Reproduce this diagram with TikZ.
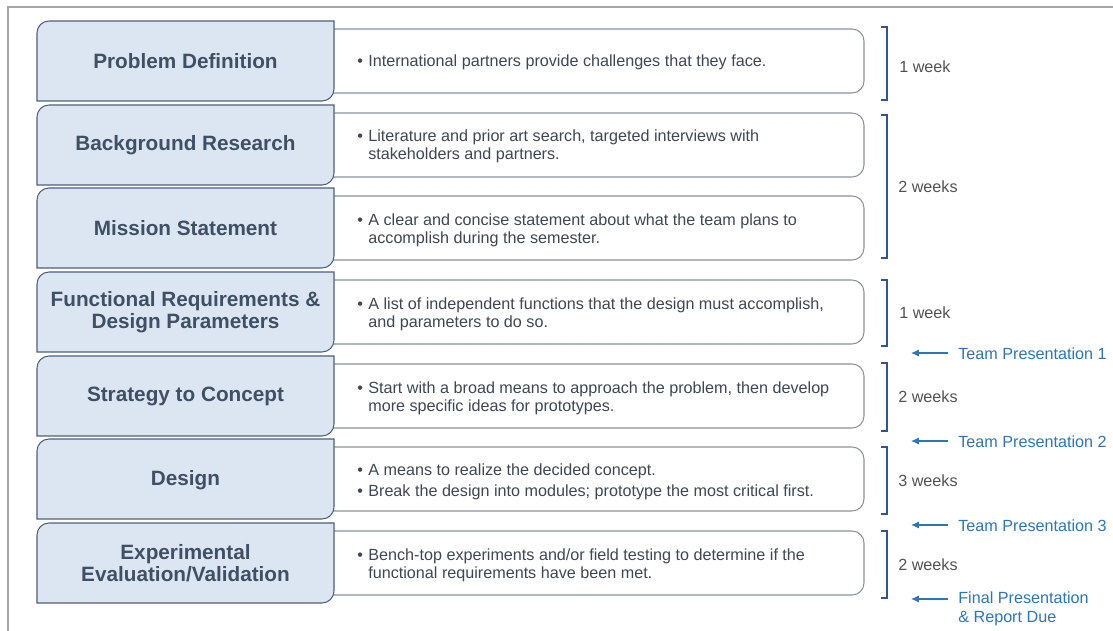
\documentclass[tikz,border=0pt]{standalone}
\usepackage{fontspec}
\setmainfont{Liberation Sans}
\usetikzlibrary{arrows.meta}

\definecolor{boxfill}{HTML}{DCE6F2}
\definecolor{boxline}{HTML}{4F5F78}
\definecolor{titlecol}{HTML}{3F4F66}
\definecolor{bodycol}{HTML}{3F4654}
\definecolor{descline}{HTML}{8A929C}
\definecolor{brackcol}{HTML}{2F5597}
\definecolor{prescol}{HTML}{2E75B6}
\definecolor{framecol}{HTML}{A6A6A6}

\newcommand{\bul}{\makebox[0.22cm][l]{\textbullet}}
\newcommand{\ind}{\hspace*{0.22cm}}

\tikzset{
  leftbox/.style={fill=boxfill, draw=boxline, line width=0.6pt},
  descbox/.style={fill=white, draw=descline, line width=0.6pt},
  stagetitle/.style={font=\fontsize{11.8pt}{12.6pt}\selectfont\bfseries, text=titlecol, align=center},
  stagetext/.style={font=\fontsize{9.2pt}{10.3pt}\selectfont, text=bodycol, align=left, anchor=west, inner sep=0pt},
  bracket/.style={draw=brackcol, line width=1.1pt},
  weeks/.style={font=\fontsize{9.2pt}{10.3pt}\selectfont, text=black!68, anchor=west, inner sep=0pt},
  pres/.style={font=\fontsize{9.2pt}{10.8pt}\selectfont, text=prescol, align=left, anchor=west, inner xsep=0.2cm, inner ysep=0pt},
  presarrow/.style={draw=prescol, line width=0.6pt, -{Latex[length=4.5pt,width=4pt]}}
}

\begin{document}
\begin{tikzpicture}[x=0.02cm, y=0.02cm]
\useasboundingbox (0, 0) rectangle (1113, -631);
\draw [framecol, line width=0.8pt] (8, -631) -- (8, -7) -- (1113, -7);

% description boxes (behind)
\filldraw [descbox] (300, -29) -- (852, -29) arc[start angle=90, end angle=0, radius=0.24cm] -- (864, -81) arc[start angle=0, end angle=-90, radius=0.24cm] -- (300, -93) -- cycle;
\filldraw [descbox] (300, -113) -- (852, -113) arc[start angle=90, end angle=0, radius=0.24cm] -- (864, -165) arc[start angle=0, end angle=-90, radius=0.24cm] -- (300, -177) -- cycle;
\filldraw [descbox] (300, -196) -- (852, -196) arc[start angle=90, end angle=0, radius=0.24cm] -- (864, -248) arc[start angle=0, end angle=-90, radius=0.24cm] -- (300, -260) -- cycle;
\filldraw [descbox] (300, -280) -- (852, -280) arc[start angle=90, end angle=0, radius=0.24cm] -- (864, -332) arc[start angle=0, end angle=-90, radius=0.24cm] -- (300, -344) -- cycle;
\filldraw [descbox] (300, -364) -- (852, -364) arc[start angle=90, end angle=0, radius=0.24cm] -- (864, -416) arc[start angle=0, end angle=-90, radius=0.24cm] -- (300, -428) -- cycle;
\filldraw [descbox] (300, -447) -- (852, -447) arc[start angle=90, end angle=0, radius=0.24cm] -- (864, -499) arc[start angle=0, end angle=-90, radius=0.24cm] -- (300, -511) -- cycle;
\filldraw [descbox] (300, -531) -- (852, -531) arc[start angle=90, end angle=0, radius=0.24cm] -- (864, -583) arc[start angle=0, end angle=-90, radius=0.24cm] -- (300, -595) -- cycle;

% stage boxes
\filldraw [leftbox] (37, -101) -- (37, -33) arc[start angle=180, end angle=90, radius=0.24cm] -- (334, -21) -- (334, -89) arc[start angle=0, end angle=-90, radius=0.24cm] -- cycle;
\filldraw [leftbox] (37, -185) -- (37, -117) arc[start angle=180, end angle=90, radius=0.24cm] -- (334, -105) -- (334, -173) arc[start angle=0, end angle=-90, radius=0.24cm] -- cycle;
\filldraw [leftbox] (37, -268) -- (37, -200) arc[start angle=180, end angle=90, radius=0.24cm] -- (334, -188) -- (334, -256) arc[start angle=0, end angle=-90, radius=0.24cm] -- cycle;
\filldraw [leftbox] (37, -352) -- (37, -284) arc[start angle=180, end angle=90, radius=0.24cm] -- (334, -272) -- (334, -340) arc[start angle=0, end angle=-90, radius=0.24cm] -- cycle;
\filldraw [leftbox] (37, -436) -- (37, -368) arc[start angle=180, end angle=90, radius=0.24cm] -- (334, -356) -- (334, -424) arc[start angle=0, end angle=-90, radius=0.24cm] -- cycle;
\filldraw [leftbox] (37, -519) -- (37, -451) arc[start angle=180, end angle=90, radius=0.24cm] -- (334, -439) -- (334, -507) arc[start angle=0, end angle=-90, radius=0.24cm] -- cycle;
\filldraw [leftbox] (37, -603) -- (37, -535) arc[start angle=180, end angle=90, radius=0.24cm] -- (334, -523) -- (334, -591) arc[start angle=0, end angle=-90, radius=0.24cm] -- cycle;

\node [stagetitle] (problem) at (185.5, -61) {Problem Definition};
\node [stagetitle] (research) at (185.5, -145) {Background Research};
\node [stagetitle] (mission) at (185.5, -228) {Mission Statement};
\node [stagetitle] (functional) at (185.5, -312) {Functional Requirements \&\\Design Parameters};
\node [stagetitle] (strategy) at (185.5, -396) {Strategy to Concept};
\node [stagetitle] (design) at (185.5, -480) {Design};
\node [stagetitle] (evaluation) at (185.5, -563) {Experimental\\Evaluation/Validation};

\node [stagetext] (problemtext) at (357, -62.5) {\bul International partners provide challenges that they face.};
\node [stagetext] (researchtext) at (357, -146) {\bul Literature and prior art search, targeted interviews with\\\ind stakeholders and partners.};
\node [stagetext] (missiontext) at (357, -230) {\bul A clear and concise statement about what the team plans to\\\ind accomplish during the semester.};
\node [stagetext] (functionaltext) at (357, -314) {\bul A list of independent functions that the design must accomplish,\\\ind and parameters to do so.};
\node [stagetext] (strategytext) at (357, -398) {\bul Start with a broad means to approach the problem, then develop\\\ind more specific ideas for prototypes.};
\node [stagetext] (designtext) at (357, -482) {\bul A means to realize the decided concept.\\[2pt]\bul Break the design into modules; prototype the most critical first.};
\node [stagetext] (evaluationtext) at (357, -565) {\bul Bench-top experiments and/or field testing to determine if the\\\ind functional requirements have been met.};

% durations
\draw [bracket] (881, -27) -- (887, -27) -- (887, -100) -- (881, -100);
\draw [bracket] (881, -115) -- (887, -115) -- (887, -258) -- (881, -258);
\draw [bracket] (881, -280) -- (887, -280) -- (887, -346) -- (881, -346);
\draw [bracket] (881, -363) -- (887, -363) -- (887, -431) -- (881, -431);
\draw [bracket] (881, -447) -- (887, -447) -- (887, -514) -- (881, -514);
\draw [bracket] (881, -531) -- (887, -531) -- (887, -598) -- (881, -598);

\node [weeks] (week1) at (899, -67) {1 week};
\node [weeks] (week2) at (898, -187) {2 weeks};
\node [weeks] (week3) at (899, -313) {1 week};
\node [weeks] (week4) at (898, -397) {2 weeks};
\node [weeks] (week5) at (898, -481) {3 weeks};
\node [weeks] (week6) at (898, -565) {2 weeks};

% presentations
\node [pres] (pres1) at (948, -354) {Team Presentation 1};
\node [pres] (pres2) at (948, -442) {Team Presentation 2};
\node [pres] (pres3) at (948, -526) {Team Presentation 3};
\node [pres] (pres4) at (948, -608.5) {Final Presentation\\\& Report Due};
\coordinate (due1) at (911, -353);
\coordinate (due2) at (911, -441);
\coordinate (due3) at (911, -525);
\coordinate (due4) at (911, -599);
\draw [presarrow] (pres1.west |- due1) -- (due1);
\draw [presarrow] (pres2.west |- due2) -- (due2);
\draw [presarrow] (pres3.west |- due3) -- (due3);
\draw [presarrow] (pres4.west |- due4) -- (due4);
\end{tikzpicture}
\end{document}
